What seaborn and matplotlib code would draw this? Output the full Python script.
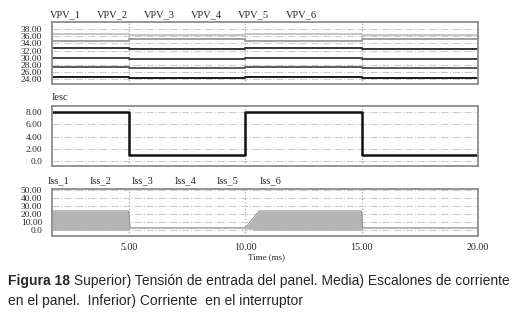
import numpy as np
import pandas as pd
import seaborn as sns
import matplotlib.pyplot as plt
from matplotlib import font_manager

# time axis (ms): current steps at 5, 10 and 15 ms
t_step = [1.7, 5.0, 5.0, 10.0, 10.0, 15.0, 15.0, 20.0]
phase = ["H", "H", "L", "L", "H", "H", "L", "L"]

# panel voltages: level with high current / with low current
vpv_names = ["VPV_1", "VPV_2", "VPV_3", "VPV_4", "VPV_5", "VPV_6"]
vpv_high_i = [24.7, 27.3, 30.0, 32.7, 34.7, 36.7]
vpv_low_i = [24.4, 27.0, 29.6, 32.3, 35.3, 36.4]
vpv_colors = ["#1a1a1a", "#5a5a5a", "#444444", "#333333", "#a0a0a0", "#c4c4c4"]

# current steps in the panel
iesc_high = 8.0
iesc_low = 1.0

# switch current envelope
t_iss = [1.7, 5.0, 5.05, 10.0, 10.6, 15.0, 15.05, 20.0]
iss_upper = [24.0, 24.0, 3.2, 3.2, 24.0, 24.0, 3.2, 3.2]
iss_lower = [0.0, 0.0, 2.2, 2.2, 0.0, 0.0, 2.2, 2.2]
iss_names = ["Iss_1", "Iss_2", "Iss_3", "Iss_4", "Iss_5", "Iss_6"]

x_ticks = [5, 10, 15, 20]
x_tick_labels = ["5.00", "10.00", "15.00", "20.00"]

sns.set_style("white")
plt.rcParams["font.family"] = ["Liberation Serif", "DejaVu Serif"]

W, H = 515, 314
fig = plt.figure(figsize=(W / 100, H / 100), dpi=100)


def panel(top_px, bottom_px):
    return fig.add_axes([52 / W, 1 - bottom_px / H, 426 / W, (bottom_px - top_px) / H])


def style(ax, yticks, ylabels, ylim):
    ax.set_xlim(1.7, 20.0)
    ax.set_ylim(*ylim)
    ax.set_xticks(x_ticks)
    ax.set_yticks(yticks)
    ax.set_yticklabels(ylabels, fontsize=6.8)
    ax.tick_params(length=0, pad=7)
    ax.xaxis.grid(True, linestyle=":", color="#a8a8a8", lw=0.9)
    ax.yaxis.grid(True, linestyle="-.", color="#cccccc", lw=0.8)
    for s in ax.spines.values():
        s.set_color("#8c8c8c")
        s.set_linewidth(1.3)
    ax.set_xlabel("")
    ax.set_ylabel("")
    legend = ax.get_legend()
    if legend is not None:
        legend.remove()


# ---- top: panel voltages
rows = []
for name, vh, vl in zip(vpv_names, vpv_high_i, vpv_low_i):
    for t, p in zip(t_step, phase):
        rows.append({"t": t, "v": vh if p == "H" else vl, "trace": name})
vpv_df = pd.DataFrame(rows)

ax1 = panel(22, 84)
sns.lineplot(data=vpv_df, x="t", y="v", hue="trace", palette=vpv_colors,
             estimator=None, sort=False, lw=1.4, ax=ax1)
style(ax1, np.arange(24, 39, 2), [f"{v:.2f}" for v in range(24, 39, 2)], (22.6, 40.0))
ax1.set_xticklabels([])
for i, name in enumerate(vpv_names):
    fig.text((65 + 47.2 * i) / W, 1 - 15 / H, name, fontsize=7.5, ha="center", va="center")

# ---- middle: current steps
iesc_df = pd.DataFrame({"t": t_step,
                        "i": [iesc_high if p == "H" else iesc_low for p in phase]})
ax2 = panel(106, 166)
sns.lineplot(data=iesc_df, x="t", y="i", color="#111111", lw=1.8,
             estimator=None, sort=False, ax=ax2)
style(ax2, [0, 2, 4, 6, 8], ["0.0", "2.00", "4.00", "6.00", "8.00"], (-0.75, 9.0))
ax2.set_xticklabels([])
fig.text(52 / W, 1 - 98 / H, "Iesc", fontsize=7.5, ha="left", va="center")

# ---- bottom: switch current
iss_df = pd.DataFrame({"t": t_iss, "lo": iss_lower, "hi": iss_upper})
ax3 = panel(189, 236)
ax3.fill_between(iss_df["t"], iss_df["lo"], iss_df["hi"], color="#b4b4b4", lw=0)
sns.lineplot(data=iss_df, x="t", y="hi", color="#8a8a8a", lw=0.6,
             estimator=None, sort=False, ax=ax3)
style(ax3, [0, 10, 20, 30, 40, 50],
      ["0.0", "10.00", "20.00", "30.00", "40.00", "50.00"], (-7, 51))
ax3.set_xticklabels(x_tick_labels, fontsize=7.2)
ax3.tick_params(axis="x", pad=5)
for i, name in enumerate(iss_names):
    fig.text((58 + 42.5 * i) / W, 1 - 181 / H, name, fontsize=7.5, ha="center", va="center")
fig.text(266 / W, 1 - 257.5 / H, "Time (ms)", fontsize=6.5, ha="center", va="center")

# ---- caption
names = {f.name for f in font_manager.fontManager.ttflist}
cap_font = "Liberation Sans Narrow" if "Liberation Sans Narrow" in names else "Liberation Sans"
line1 = " Superior) Tensión de entrada del panel. Media) Escalones de corriente"
line2 = "en el panel.  Inferior) Corriente  en el interruptor"

renderer = fig.canvas.get_renderer()
size = 12.0
while True:
    b = fig.text(8 / W, 1 - 285 / H, "Figura 18", fontsize=size, fontweight="bold",
                 family=cap_font, va="baseline")
    bb = b.get_window_extent(renderer)
    r = fig.text(bb.x1 / W, 1 - 285 / H, line1, fontsize=size, family=cap_font, va="baseline")
    rb = r.get_window_extent(renderer)
    if rb.x1 <= 511 or size < 7:
        break
    b.remove()
    r.remove()
    size -= 0.25
fig.text(8 / W, 1 - 305 / H, line2, fontsize=size, family=cap_font, va="baseline")

fig.savefig("out.png", dpi=100)
